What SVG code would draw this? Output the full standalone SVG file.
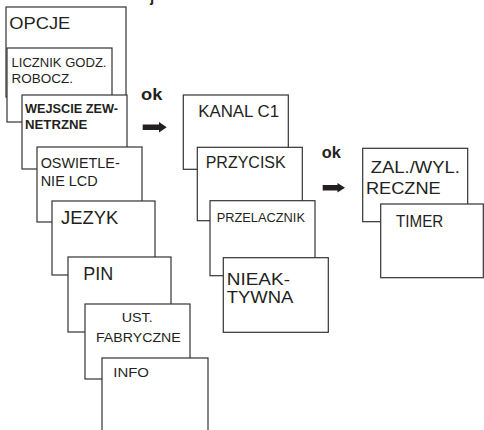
<svg xmlns="http://www.w3.org/2000/svg" width="484" height="430" viewBox="0 0 484 430">
<style>
.b{fill:#fff;stroke:#333;stroke-width:1.2}
text{font-family:"Liberation Sans",Arial,sans-serif;fill:#231f20}
.bd{font-weight:bold}
</style>
<rect width="484" height="430" fill="#fff"/>
<text x="150" y="2" font-size="15" class="bd">j</text>
<g id="opcje"><rect class="b" x="6" y="7" width="120" height="90"/><text x="9.3" y="29.3" font-size="16.5" textLength="61" lengthAdjust="spacingAndGlyphs">OPCJE</text></g>
<g id="licznik"><rect class="b" x="7" y="48" width="105" height="74"/><text x="11.5" y="67.3" font-size="12.3" textLength="95" lengthAdjust="spacingAndGlyphs">LICZNIK GODZ.</text><text x="11.5" y="82.5" font-size="12.3" textLength="61.5" lengthAdjust="spacingAndGlyphs">ROBOCZ.</text></g>
<g id="wejscie"><rect class="b" x="22" y="95" width="105" height="74"/><text class="bd" x="25" y="113.3" font-size="12.3" textLength="93" lengthAdjust="spacingAndGlyphs">WEJSCIE ZEW-</text><text class="bd" x="25" y="129.3" font-size="12.3" textLength="62.3" lengthAdjust="spacingAndGlyphs">NETRZNE</text></g>
<g id="oswietlenie"><rect class="b" x="37" y="147" width="105" height="75"/><text x="40.7" y="167.7" font-size="13.8" textLength="79" lengthAdjust="spacingAndGlyphs">OSWIETLE-</text><text x="40.7" y="185.7" font-size="13.8" textLength="57" lengthAdjust="spacingAndGlyphs">NIE LCD</text></g>
<g id="jezyk"><rect class="b" x="52" y="201" width="103" height="74"/><text x="61" y="224" font-size="18.5" textLength="57.3" lengthAdjust="spacingAndGlyphs">JEZYK</text></g>
<g id="pin"><rect class="b" x="68" y="257" width="103" height="75"/><text x="83.3" y="280" font-size="17.5" textLength="30" lengthAdjust="spacingAndGlyphs">PIN</text></g>
<g id="ust"><rect class="b" x="85" y="304" width="105" height="75"/><text x="121.7" y="321.7" font-size="13.2" textLength="31" lengthAdjust="spacingAndGlyphs">UST.</text><text x="96" y="341.7" font-size="13.2" textLength="84.7" lengthAdjust="spacingAndGlyphs">FABRYCZNE</text></g>
<g id="info"><rect class="b" x="102" y="358" width="106" height="90"/><text x="113.3" y="377.3" font-size="13.2" textLength="35.7" lengthAdjust="spacingAndGlyphs">INFO</text></g>
<g id="kanal"><rect class="b" x="183.3" y="95" width="105" height="74.3"/><text x="198.3" y="116.7" font-size="16.2" textLength="80.7" lengthAdjust="spacingAndGlyphs">KANAL C1</text></g>
<g id="przycisk"><rect class="b" x="197.3" y="147.3" width="105" height="73.4"/><text x="205.7" y="168.3" font-size="16.2" textLength="80" lengthAdjust="spacingAndGlyphs">PRZYCISK</text></g>
<g id="przelacznik"><rect class="b" x="210" y="200.7" width="105" height="75"/><text x="216.7" y="221.7" font-size="12.3" textLength="88.3" lengthAdjust="spacingAndGlyphs">PRZELACZNIK</text></g>
<g id="nieaktywna"><rect class="b" x="223.3" y="257.7" width="105" height="74.6"/><text x="226.7" y="285" font-size="17" textLength="63.3" lengthAdjust="spacingAndGlyphs">NIEAK-</text><text x="226.7" y="303.3" font-size="17" textLength="66.6" lengthAdjust="spacingAndGlyphs">TYWNA</text></g>
<g id="zal"><rect class="b" x="362.7" y="148.3" width="105" height="73.4"/><text x="370.7" y="173.3" font-size="15.8" textLength="89.3" lengthAdjust="spacingAndGlyphs">ZAL./WYL.</text><text x="366" y="194" font-size="15.8" textLength="74.7" lengthAdjust="spacingAndGlyphs">RECZNE</text></g>
<g id="timer"><rect class="b" x="380.7" y="204" width="102.6" height="73.7"/><text x="396" y="226.7" font-size="16.2" textLength="47.3" lengthAdjust="spacingAndGlyphs">TIMER</text></g>
<g id="connectors">
<text class="bd" x="141" y="100" font-size="16" textLength="21.3" lengthAdjust="spacingAndGlyphs">ok</text>
<path d="M142.7 124.5H159V122L166.7 127.3L159 132.5V130H142.7Z" fill="#231f20"/>
<text class="bd" x="321.7" y="158.3" font-size="16" textLength="19" lengthAdjust="spacingAndGlyphs">ok</text>
<path d="M322.7 185H337.5V183L345 187.8L337.5 192.5V190.5H322.7Z" fill="#231f20"/>
</g>
</svg>
